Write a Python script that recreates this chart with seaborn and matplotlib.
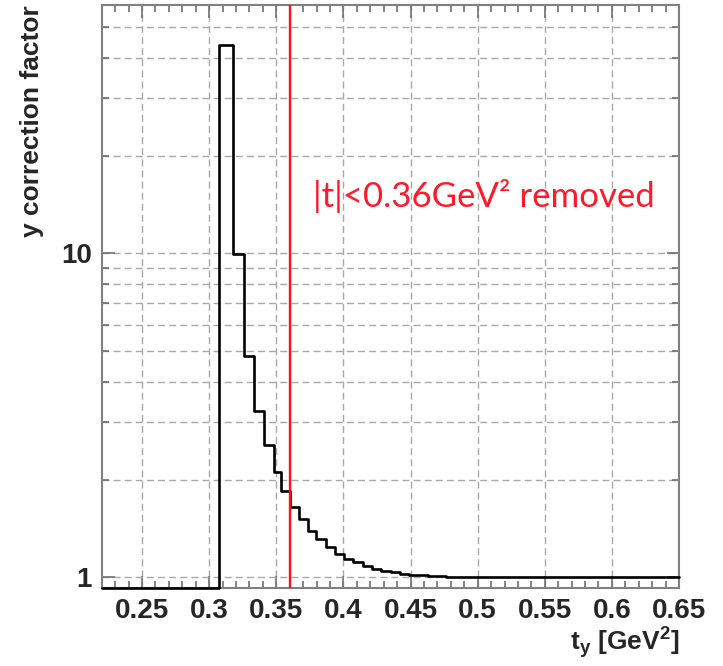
import numpy as np
import pandas as pd
import matplotlib
matplotlib.use("Agg")
import matplotlib.pyplot as plt
import seaborn as sns
from matplotlib.ticker import LogLocator, MultipleLocator, FixedLocator, FixedFormatter, NullFormatter

# ---------------- data ----------------
bin_edges = [0.220, 0.307, 0.318, 0.3263, 0.3332, 0.3409, 0.3483, 0.3539, 0.3601,
             0.3670, 0.3737, 0.3799, 0.3868, 0.3935, 0.4004, 0.4070, 0.4144, 0.4213,
             0.4282, 0.4351, 0.4420, 0.4489, 0.4558, 0.4627, 0.4696, 0.4765, 0.650]
correction = [0.0, 44.0, 9.9, 4.8, 3.25, 2.55, 2.11, 1.84, 1.65,
              1.51, 1.39, 1.31, 1.24, 1.18, 1.14, 1.11, 1.08, 1.06,
              1.045, 1.034, 1.025, 1.018, 1.012, 1.008, 1.004, 1.0]
t_cut = 0.36
x_ticks = [0.25, 0.30, 0.35, 0.40, 0.45, 0.50, 0.55, 0.60, 0.65]
x_tick_labels = ["0.25", "0.3", "0.35", "0.4", "0.45", "0.5", "0.55", "0.6", "0.65"]
y_ticks = [1, 10]
y_tick_labels = ["1", "10"]
x_range = (0.22, 0.65)
y_range = (0.925, 58.3)

# ---------------- style ----------------
sns.set_theme(style="white")
plt.rcParams["font.family"] = ["Liberation Sans", "DejaVu Sans"]
plt.rcParams["mathtext.fontset"] = "custom"
plt.rcParams["mathtext.rm"] = "Liberation Sans:bold"
plt.rcParams["mathtext.it"] = "Liberation Sans:bold"
plt.rcParams["mathtext.bf"] = "Liberation Sans:bold"
plt.rcParams["mathtext.default"] = "rm"

fig = plt.figure(figsize=(7.23, 6.66), dpi=100)
ax = fig.add_axes([0.1407, 0.1171, 0.7985, 0.8754])

# histogram outline as a step line (empty bins drawn on the lower frame edge)
vals = [v if v > 0 else y_range[0] for v in correction]
df = pd.DataFrame({"t": bin_edges, "f": vals + [vals[-1]]})
sns.lineplot(data=df, x="t", y="f", drawstyle="steps-post", estimator=None, sort=False,
             color="black", linewidth=1.9, ax=ax, clip_on=False, zorder=3)

# cut line
ax.axvline(t_cut, color="#ff1010", linewidth=1.7, zorder=4)
ax.text(0.366, 0.6535, f"|t|<{t_cut}GeV\u00b2 removed", transform=ax.transAxes,
        color="#ff1a2a", fontsize=25, family=["Lato", "DejaVu Sans"],
        ha="left", va="baseline")

ax.set_yscale("log")
ax.set_xlim(*x_range)
ax.set_ylim(*y_range)

ax.xaxis.set_major_locator(FixedLocator(x_ticks))
ax.xaxis.set_major_formatter(FixedFormatter(x_tick_labels))
ax.xaxis.set_minor_locator(MultipleLocator(0.01))
ax.yaxis.set_major_locator(FixedLocator(y_ticks))
ax.yaxis.set_major_formatter(FixedFormatter(y_tick_labels))
ax.yaxis.set_minor_locator(LogLocator(base=10, subs=(2, 3, 4, 5, 6, 7, 8, 9)))
ax.yaxis.set_minor_formatter(NullFormatter())

grid_kw = dict(color="#a8a8a8", linestyle=(0, (5, 3)), linewidth=1.0)
ax.grid(True, which="major", axis="both", **grid_kw)
ax.grid(True, which="minor", axis="y", **grid_kw)
ax.set_axisbelow(True)

for s in ax.spines.values():
    s.set_color("#808080")
    s.set_linewidth(1.5)
    s.set_visible(True)

ax.tick_params(which="both", direction="in", top=True, right=True, bottom=True, left=True,
               color="#707070", width=1.2)
ax.tick_params(which="major", length=9, pad=7, labelsize=20)
ax.tick_params(which="minor", length=5)
for lab in ax.get_xticklabels() + ax.get_yticklabels():
    lab.set_fontweight("bold")

ax.set_xlabel(r"t$_{y}$ [GeV$^{2}$]", loc="right", fontsize=19, fontweight="bold", labelpad=1)
ax.set_ylabel("y correction factor", loc="top", fontsize=19, fontweight="bold", labelpad=12)

fig.savefig("out.png", dpi=100)
